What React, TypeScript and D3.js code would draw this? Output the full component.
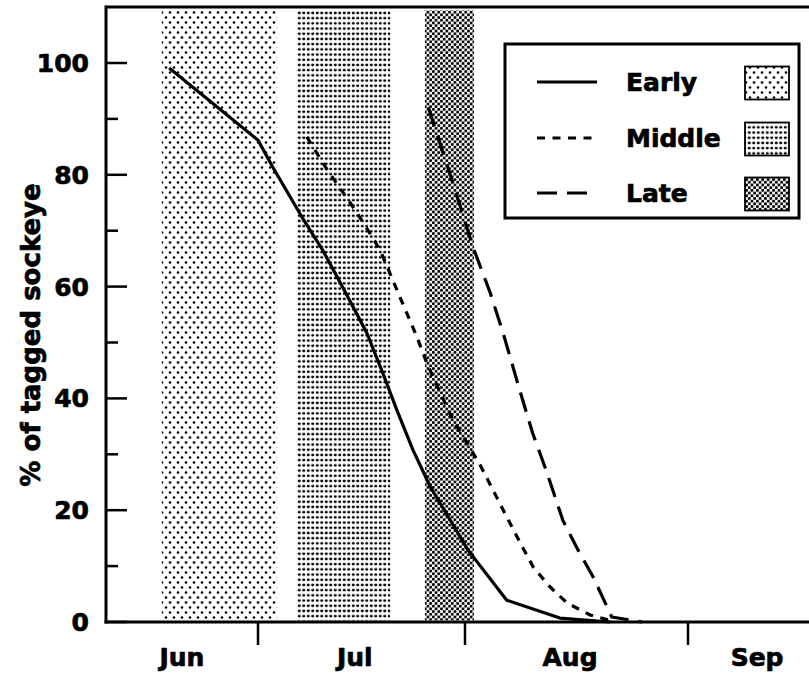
import React, { useEffect, useRef } from 'react';
import * as d3 from 'd3';

// x values are day of year (Jul 1 = 182)
const earlyDays = [168.7, 182, 184.2, 188.6, 191.7, 195.3, 198.3, 200.7, 202.8, 205.2, 207.8, 210.8, 213.4, 218.8, 226.2, 233.2];
const earlyPct = [99.1, 86.2, 81.4, 72.4, 66.5, 58.5, 51.7, 44.5, 37.9, 30.8, 24.2, 18.2, 12.9, 3.9, 0.7, 0];

const middleDays = [189.3, 192.3, 195.8, 198.0, 200.3, 203.3, 205.8, 207.3, 209.3, 211.2, 213.3, 215.1, 216.9, 218.8, 220.7, 222.5, 224.8, 227.2, 230.4, 233.4];
const middlePct = [86.8, 81.0, 75.0, 71.0, 66.5, 58.0, 51, 46.3, 41, 36.1, 32, 28.1, 23.6, 18.8, 14.1, 9.8, 6.3, 3.4, 1.25, 0.2];

const lateDays = [207.5, 211.2, 214.1, 216.5, 218.3, 220.6, 222.4, 224.4, 226.6, 228.7, 230.8, 233.4, 237.6];
const latePct = [92.1, 78.5, 67.1, 58.9, 51.7, 41.5, 33.8, 26.7, 18.2, 12.9, 8.1, 0.9, 0];

// shaded periods
const groups = ['Early', 'Middle', 'Late'];
const bandStart = [167.6, 187.8, 207.0];
const bandEnd = [184.85, 201.8, 214.25];

const monthBreaks = [182, 213, 244];
const monthNames = ['Jun', 'Jul', 'Aug', 'Sep'];
const monthLabelDays = [170.6, 196.5, 227.6, 253.6];

const yMajor = [0, 20, 40, 60, 80, 100];
const yMinor = [10, 30, 50, 70, 90];

const FONT = '"DejaVu Sans", sans-serif';

const App = () => {
  const ref = useRef<SVGSVGElement>(null);

  useEffect(() => {
    const width = 809;
    const height = 680;
    const svg = d3.select(ref.current)
      .attr('width', width)
      .attr('height', height);

    svg.selectAll('*').remove();

    // month ticks were not evenly spaced on the original, so use a piecewise scale
    const x = d3.scaleLinear()
      .domain(monthBreaks)
      .range([258, 465, 688]);
    const y = d3.scaleLinear()
      .domain([0, 100])
      .range([622, 63]);

    const x0 = 106;
    const yTop = y(110);

    // patterns
    const defs = svg.append('defs');
    const pEarly = defs.append('pattern').attr('id', 'pEarly')
      .attr('patternUnits', 'userSpaceOnUse').attr('width', 8).attr('height', 10);
    pEarly.append('circle').attr('cx', 2).attr('cy', 2.5).attr('r', 1.3);
    pEarly.append('circle').attr('cx', 6).attr('cy', 7.5).attr('r', 1.3);

    const pMiddle = defs.append('pattern').attr('id', 'pMiddle')
      .attr('patternUnits', 'userSpaceOnUse').attr('width', 4.5).attr('height', 5.2);
    pMiddle.append('ellipse').attr('cx', 2.25).attr('cy', 2.6).attr('rx', 1.6).attr('ry', 1.25);

    const pLate = defs.append('pattern').attr('id', 'pLate')
      .attr('patternUnits', 'userSpaceOnUse').attr('width', 5.4).attr('height', 5.4);
    pLate.append('circle').attr('cx', 1.35).attr('cy', 1.35).attr('r', 1.5);
    pLate.append('circle').attr('cx', 4.05).attr('cy', 4.05).attr('r', 1.5);

    const fills = ['url(#pEarly)', 'url(#pMiddle)', 'url(#pLate)'];

    // shaded bands
    svg.append('g')
      .selectAll('rect')
      .data(groups)
      .enter()
      .append('rect')
      .attr('x', (d, i) => x(bandStart[i]))
      .attr('width', (d, i) => x(bandEnd[i]) - x(bandStart[i]))
      .attr('y', y(109.4))
      .attr('height', y(0.3) - y(109.4))
      .attr('fill', (d, i) => fills[i]);

    // lines
    const line = d3.line<[number, number]>()
      .x(d => x(d[0]))
      .y(d => y(d[1]));

    const series = [
      { days: earlyDays, pct: earlyPct, dash: null },
      { days: middleDays, pct: middlePct, dash: '8,7.5' },
      { days: lateDays, pct: latePct, dash: '20,10' },
    ];

    series.forEach(s => {
      svg.append('path')
        .datum(s.days.map((d, i) => [d, s.pct[i]] as [number, number]))
        .attr('d', line)
        .attr('fill', 'none')
        .attr('stroke', '#000')
        .attr('stroke-width', 3.2)
        .attr('stroke-linejoin', 'round')
        .attr('stroke-dasharray', s.dash);
    });

    // frame
    svg.append('line')
      .attr('x1', x0).attr('x2', width + 5)
      .attr('y1', yTop).attr('y2', yTop)
      .attr('stroke', '#000').attr('stroke-width', 3);
    svg.append('line')
      .attr('x1', x0).attr('x2', x0)
      .attr('y1', yTop - 1.5).attr('y2', y(0) + 1.5)
      .attr('stroke', '#000').attr('stroke-width', 3);
    svg.append('line')
      .attr('x1', x0 - 1.5).attr('x2', width + 5)
      .attr('y1', y(0)).attr('y2', y(0))
      .attr('stroke', '#000').attr('stroke-width', 3);

    const label = (sel: any, size: number) => sel
      .attr('font-family', FONT)
      .attr('font-weight', 'bold')
      .attr('font-size', size)
      .attr('stroke', '#000')
      .attr('stroke-width', 0.7);

    // y ticks
    svg.append('g').selectAll('line.maj')
      .data(yMajor).enter().append('line')
      .attr('x1', x0).attr('x2', x0 + 21)
      .attr('y1', d => y(d)).attr('y2', d => y(d))
      .attr('stroke', '#000').attr('stroke-width', 2.5);
    svg.append('g').selectAll('line.min')
      .data(yMinor).enter().append('line')
      .attr('x1', x0).attr('x2', x0 + 12)
      .attr('y1', d => y(d)).attr('y2', d => y(d))
      .attr('stroke', '#000').attr('stroke-width', 2.5);
    svg.append('g').selectAll('text')
      .data(yMajor).enter().append('text')
      .attr('x', 89)
      .attr('y', d => y(d))
      .attr('dy', '0.36em')
      .attr('text-anchor', 'end')
      .call(label, 25)
      .text(d => d);

    // x ticks and month labels
    svg.append('g').selectAll('line')
      .data(monthBreaks).enter().append('line')
      .attr('x1', d => x(d)).attr('x2', d => x(d))
      .attr('y1', y(0)).attr('y2', y(0) + 23)
      .attr('stroke', '#000').attr('stroke-width', 2.5);
    svg.append('g').selectAll('text')
      .data(monthNames).enter().append('text')
      .attr('x', (d, i) => x(monthLabelDays[i]))
      .attr('y', 666)
      .attr('text-anchor', 'middle')
      .call(label, 25)
      .text(d => d);

    // y axis title
    svg.append('text')
      .attr('transform', 'translate(40,335) rotate(-90)')
      .attr('text-anchor', 'middle')
      .call(label, 26)
      .text('% of tagged sockeye');

    // legend
    const legend = svg.append('g');
    legend.append('rect')
      .attr('x', 505).attr('y', 44)
      .attr('width', 294).attr('height', 174)
      .attr('fill', '#fff')
      .attr('stroke', '#000').attr('stroke-width', 3);

    const rowY = [82, 138, 193];
    const dashes = [null, '8,7.5', '20,10'];
    groups.forEach((g, i) => {
      legend.append('line')
        .attr('x1', 537).attr('x2', i === 2 ? 588 : 597)
        .attr('y1', rowY[i]).attr('y2', rowY[i])
        .attr('stroke', '#000').attr('stroke-width', 3.2)
        .attr('stroke-dasharray', dashes[i]);
      legend.append('text')
        .attr('x', 626).attr('y', rowY[i] + 9)
        .call(label, 25)
        .text(g);
      legend.append('rect')
        .attr('x', 745).attr('y', rowY[i] - 15.5)
        .attr('width', 44).attr('height', 33)
        .attr('fill', fills[i])
        .attr('stroke', '#000').attr('stroke-width', 1.8);
    });
  }, []);

  return (
    <svg ref={ref} style={{ position: 'absolute', left: 0, top: 0, display: 'block', background: '#fff' }}></svg>
  );
};

export default App;
